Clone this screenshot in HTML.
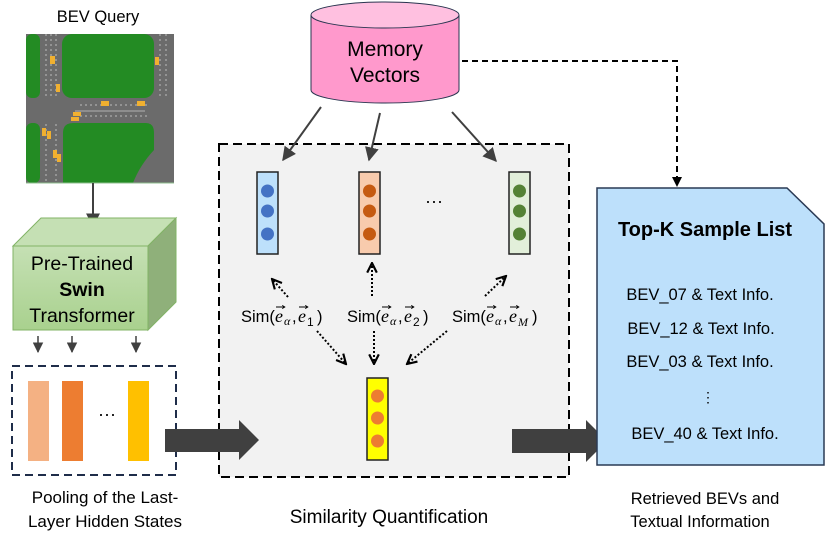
<!DOCTYPE html>
<html><head><meta charset="utf-8"><style>
html,body{margin:0;padding:0;background:#fff;}
svg{display:block;font-family:"Liberation Sans",Arial,sans-serif;}
.m{font-family:"Liberation Serif","DejaVu Serif",serif;font-style:italic;}
</style></head><body>
<svg width="831" height="538" viewBox="0 0 831 538" xmlns="http://www.w3.org/2000/svg">
<defs>
<marker id="ah" viewBox="0 0 10 10" refX="9" refY="5" markerWidth="7" markerHeight="7" orient="auto-start-reverse"><path d="M0,0 L10,5 L0,10 z" fill="#404040"/></marker>
<marker id="ao" viewBox="0 0 10 10" refX="9" refY="5" markerWidth="6" markerHeight="6" orient="auto-start-reverse"><path d="M1,1 L9,5 L1,9" fill="none" stroke="#000" stroke-width="1.8"/></marker>
<marker id="ab" viewBox="0 0 10 10" refX="9" refY="5" markerWidth="5" markerHeight="5" orient="auto"><path d="M0,0 L10,5 L0,10 z" fill="#000"/></marker>
<marker id="sv" viewBox="0 0 10 10" refX="9" refY="5" markerWidth="4" markerHeight="4" orient="auto"><path d="M2,1 L9,5 L2,9" fill="none" stroke="#000" stroke-width="2"/></marker>
</defs>

<!-- BEV Query -->
<text x="98" y="22" font-size="16.5" text-anchor="middle">BEV Query</text>
<rect x="26" y="34" width="148" height="149" fill="#6b6b6b"/>
<rect x="62" y="34" width="92" height="64" rx="10" fill="#238b23"/>
<rect x="26" y="34" width="14" height="64" rx="6" fill="#238b23"/>
<rect x="26" y="123" width="14" height="60" rx="6" fill="#238b23"/>
<path d="M63,133 Q63,123 73,123 L146,123 Q154,123 154,133 L154,150 Q140,165 133,183 L63,183 z" fill="#238b23"/>
<line x1="26" y1="183" x2="174" y2="183" stroke="#8fbf8f" stroke-width="1"/>
<g stroke="#bbb" stroke-width="1" stroke-dasharray="2,3">
<line x1="46" y1="34" x2="46" y2="98"/><line x1="51" y1="34" x2="51" y2="98"/><line x1="56" y1="34" x2="56" y2="98"/>
<line x1="46" y1="124" x2="46" y2="183"/><line x1="56" y1="124" x2="56" y2="183"/>
<line x1="160" y1="34" x2="160" y2="98"/><line x1="166" y1="34" x2="166" y2="98"/>
<line x1="80" y1="116" x2="150" y2="116"/><line x1="80" y1="105" x2="150" y2="105"/>
</g>
<line x1="75" y1="111" x2="145" y2="111" stroke="#999" stroke-width="1.5"/>
<g fill="#f0b030">
<rect x="50" y="56" width="5" height="8"/><rect x="56" y="84" width="4" height="8"/><rect x="101" y="101" width="8" height="5"/><rect x="137" y="101" width="8" height="5"/>
<rect x="73" y="112" width="8" height="4"/><rect x="71" y="117" width="8" height="4"/><rect x="42" y="128" width="4" height="8"/><rect x="47" y="131" width="4" height="8"/>
<rect x="53" y="150" width="4" height="8"/><rect x="57" y="154" width="4" height="8"/><rect x="155" y="57" width="4" height="8"/>
</g>
<line x1="93" y1="183" x2="93" y2="226" stroke="#404040" stroke-width="2" marker-end="url(#ah)"/>

<!-- Swin cube -->
<defs><linearGradient id="g1" x1="0" y1="0" x2="0" y2="1"><stop offset="0" stop-color="#c5e0b4"/><stop offset="1" stop-color="#a9d18e"/></linearGradient></defs>
<polygon points="13,246 41,218 176,218 148,246" fill="#c5e0b4" stroke="#82b366" stroke-width="1"/>
<polygon points="148,246 176,218 176,302 148,330" fill="#8fb07a" stroke="#82b366" stroke-width="1"/>
<rect x="13" y="246" width="135" height="84" fill="url(#g1)" stroke="#82b366" stroke-width="1"/>
<text x="82" y="270" font-size="19.5" text-anchor="middle">Pre-Trained</text>
<text x="82" y="296" font-size="19.5" font-weight="bold" text-anchor="middle">Swin</text>
<text x="82" y="322" font-size="19.5" text-anchor="middle">Transformer</text>
<g stroke="#404040" stroke-width="1.5">
<line x1="38" y1="336" x2="38" y2="352" marker-end="url(#ah)"/>
<line x1="72" y1="336" x2="72" y2="352" marker-end="url(#ah)"/>
<line x1="136" y1="336" x2="136" y2="352" marker-end="url(#ah)"/>
</g>
<rect x="12" y="366" width="164" height="109" fill="none" stroke="#1f2d4a" stroke-width="2" stroke-dasharray="8,5"/>
<rect x="28" y="381" width="21" height="80" fill="#f4b183"/>
<rect x="62" y="381" width="21" height="80" fill="#ed7d31"/>
<rect x="128" y="381" width="21" height="80" fill="#ffc000"/>
<text x="107" y="420" font-size="18" text-anchor="middle">···</text>
<text x="105" y="503" font-size="17" text-anchor="middle">Pooling of the Last-</text>
<text x="105" y="527" font-size="17" text-anchor="middle">Layer Hidden States</text>

<!-- main box -->
<rect x="219" y="144" width="350" height="333" fill="#f2f2f2" stroke="#000" stroke-width="2" stroke-dasharray="9,5"/>
<polygon points="165,429 239,429 239,420 259,440 239,460 239,452 165,452" fill="#404040"/>
<polygon points="512,429 586,429 586,420 607,441 586,462 586,453 512,453" fill="#404040"/>

<!-- Memory cylinder -->
<path d="M311,15 L311,90 A74,13 0 0 0 459,90 L459,15" fill="#ff99cc" stroke="#2a3550" stroke-width="1"/>
<ellipse cx="385" cy="15" rx="74" ry="13" fill="#ffc0e0" stroke="#2a3550" stroke-width="1"/>
<text x="385" y="56" font-size="21" text-anchor="middle">Memory</text>
<text x="385" y="82" font-size="21" text-anchor="middle">Vectors</text>
<path d="M462,61 L677,61 L677,186" fill="none" stroke="#000" stroke-width="2" stroke-dasharray="6,4" marker-end="url(#ab)"/>
<g stroke="#404040" stroke-width="2">
<line x1="321" y1="107" x2="283" y2="160" marker-end="url(#ah)"/>
<line x1="380" y1="113" x2="369" y2="160" marker-end="url(#ah)"/>
<line x1="452" y1="112" x2="496" y2="161" marker-end="url(#ah)"/>
</g>

<!-- vectors -->
<rect x="257" y="172" width="21" height="82" fill="#bde0fb" stroke="#222" stroke-width="1.5"/>
<g fill="#4472c4"><circle cx="267.5" cy="191" r="6.5"/><circle cx="267.5" cy="211" r="6.5"/><circle cx="267.5" cy="234" r="6.5"/></g>
<rect x="359" y="172" width="21" height="82" fill="#f8cbad" stroke="#222" stroke-width="1.5"/>
<g fill="#c55a11"><circle cx="369.5" cy="191" r="6.5"/><circle cx="369.5" cy="211" r="6.5"/><circle cx="369.5" cy="234" r="6.5"/></g>
<rect x="509" y="172" width="21" height="82" fill="#e2efda" stroke="#222" stroke-width="1.5"/>
<g fill="#548235"><circle cx="519.5" cy="191" r="6.5"/><circle cx="519.5" cy="211" r="6.5"/><circle cx="519.5" cy="234" r="6.5"/></g>
<text x="434" y="207" font-size="18" text-anchor="middle">···</text>
<rect x="367" y="378" width="21" height="82" fill="#ffff00" stroke="#222" stroke-width="1.5"/>
<g fill="#ed7d31"><circle cx="377.5" cy="396" r="6.5"/><circle cx="377.5" cy="418" r="6.5"/><circle cx="377.5" cy="441" r="6.5"/></g>

<!-- dotted arrows -->
<g stroke="#000" stroke-width="2" stroke-dasharray="2,2" fill="none">
<line x1="288" y1="297" x2="272" y2="279" marker-end="url(#ao)"/>
<line x1="372" y1="296" x2="372" y2="263" marker-end="url(#ao)"/>
<line x1="485" y1="296" x2="506" y2="276" marker-end="url(#ao)"/>
<line x1="317" y1="331" x2="346" y2="364" marker-end="url(#ao)"/>
<line x1="374" y1="331" x2="374" y2="364" marker-end="url(#ao)"/>
<line x1="447" y1="331" x2="407" y2="364" marker-end="url(#ao)"/>
</g>

<!-- Sim labels -->
<g font-size="16.5">
<g transform="translate(241,0)">
<text x="0" y="322">Sim(</text>
<text x="34" y="322" class="m" font-size="18">e</text><text x="43" y="325" class="m" font-size="12">α</text>
<text x="51" y="322">,</text>
<text x="57" y="322" class="m" font-size="18">e</text><text x="66" y="326" font-size="12">1</text>
<text x="76" y="322">)</text>
</g>
<g transform="translate(347,0)">
<text x="0" y="322">Sim(</text>
<text x="34" y="322" class="m" font-size="18">e</text><text x="43" y="325" class="m" font-size="12">α</text>
<text x="51" y="322">,</text>
<text x="57" y="322" class="m" font-size="18">e</text><text x="66" y="326" font-size="12">2</text>
<text x="76" y="322">)</text>
</g>
<g transform="translate(452,0)">
<text x="0" y="322">Sim(</text>
<text x="34" y="322" class="m" font-size="18">e</text><text x="43" y="325" class="m" font-size="12">α</text>
<text x="51" y="322">,</text>
<text x="57" y="322" class="m" font-size="18">e</text><text x="66" y="326" class="m" font-size="12">M</text>
<text x="80" y="322">)</text>
</g>
</g>
<g stroke="#000" stroke-width="1" fill="none">
<line x1="276" y1="307" x2="285" y2="307" marker-end="url(#sv)"/><line x1="299" y1="307" x2="308" y2="307" marker-end="url(#sv)"/>
<line x1="382" y1="307" x2="391" y2="307" marker-end="url(#sv)"/><line x1="405" y1="307" x2="414" y2="307" marker-end="url(#sv)"/>
<line x1="487" y1="307" x2="496" y2="307" marker-end="url(#sv)"/><line x1="510" y1="307" x2="519" y2="307" marker-end="url(#sv)"/>
</g>
<text x="389" y="523" font-size="19" text-anchor="middle">Similarity Quantification</text>

<!-- document -->
<polygon points="597,188 787,188 824,224 824,465 597,465" fill="#bde0fb" stroke="#2a3a55" stroke-width="1.5"/>
<text x="705" y="236" font-size="20" font-weight="bold" text-anchor="middle">Top-K Sample List</text>
<g font-size="16.5" text-anchor="middle">
<text x="700" y="300">BEV_07 &amp; Text Info.</text>
<text x="701" y="334">BEV_12 &amp; Text Info.</text>
<text x="700" y="367">BEV_03 &amp; Text Info.</text>
<text x="708" y="402" font-size="14">⋮</text>
<text x="705" y="439">BEV_40 &amp; Text Info.</text>
<text x="705" y="504" font-size="16.5">Retrieved BEVs and</text>
<text x="700" y="527" font-size="16.5">Textual Information</text>
</g>
</svg>
</body></html>
